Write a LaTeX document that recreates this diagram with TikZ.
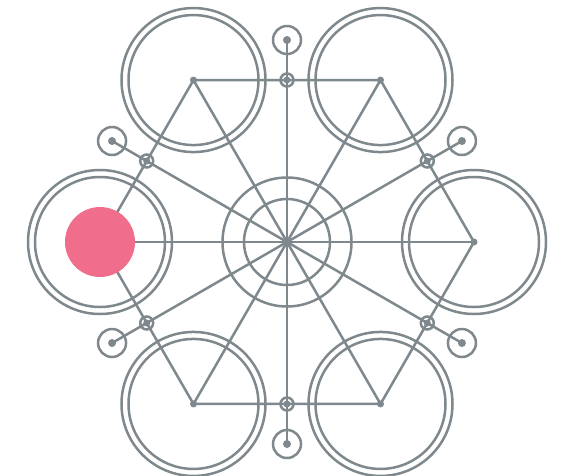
\documentclass[tikz,border=0pt]{standalone}
\definecolor{slate}{RGB}{126,136,141}
\definecolor{rose}{RGB}{240,110,140}
\tikzset{
  ring/.style={draw=slate, line width=2.5pt},
  spoke/.style={draw=slate, line width=2.5pt},
  dot/.style={fill=slate}
}
\begin{document}
\begin{tikzpicture}[x=1pt,y=1pt]
		\useasboundingbox (-287,-233) rectangle (282,242);
		\coordinate (c) at (0,0);
		\foreach \i in {0,...,5} {
			\coordinate (v\i) at (\i*60:187);
			\coordinate (m\i) at (\i*60+30:162);
			\coordinate (e\i) at (\i*60+30:202);
		}
		
		% big double circles
		\foreach \i in {0,...,5} {
			\draw[ring] (v\i) circle (72);
			\draw[ring] (v\i) circle (65);
		}
		
		% centre
		\draw[ring] (c) circle (64.5);
		\draw[ring] (c) circle (43);
		
		% spokes and hexagon
		\foreach \i in {0,...,5} {
			\draw[spoke] (c) -- (v\i);
			\draw[spoke] (c) -- (e\i);
		}
		\draw[spoke] (v0) -- (v1) -- (v2) -- (v3) -- (v4) -- (v5) -- cycle;
		
		% small markers
		\foreach \i in {0,...,5} {
			\fill[dot] (v\i) circle (3.5);
			\draw[ring] (m\i) circle (6.5);
			\fill[dot] (m\i) circle (3.5);
			\draw[ring] (e\i) circle (14);
			\fill[dot] (e\i) circle (4);
		}
		
		\fill[rose] (v3) circle (35);
	\end{tikzpicture}
\end{document}
